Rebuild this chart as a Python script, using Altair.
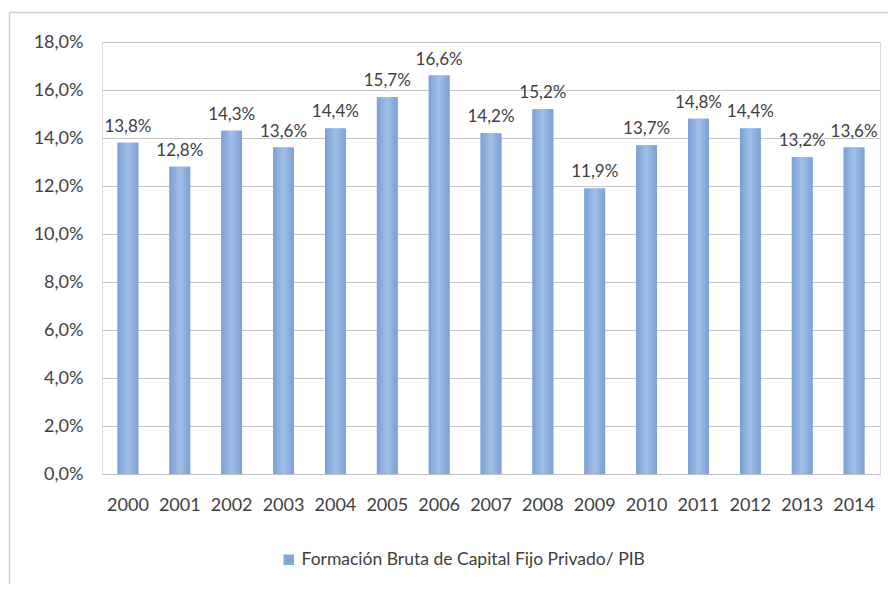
import altair as alt
import pandas as pd

years = ["2000", "2001", "2002", "2003", "2004", "2005", "2006", "2007",
         "2008", "2009", "2010", "2011", "2012", "2013", "2014"]
values = [13.8, 12.8, 14.3, 13.6, 14.4, 15.7, 16.6, 14.2,
          15.2, 11.9, 13.7, 14.8, 14.4, 13.2, 13.6]
series_name = "Formación Bruta de Capital Fijo Privado/ PIB"
y_ticks = [0, 2, 4, 6, 8, 10, 12, 14, 16, 18]

df = pd.DataFrame({"year": years, "value": values, "serie": [series_name] * len(years)})

FONT = "Lato"
TXT = "#404040"

x_enc = alt.X("year:N", title=None,
              scale=alt.Scale(paddingInner=0.6, paddingOuter=0.3),
              axis=alt.Axis(labelAngle=0, labelFontSize=18, labelColor=TXT, labelFont=FONT,
                            labelPadding=22, ticks=False, domainColor="#bfbfbf", domainWidth=1.2))
y_enc = alt.Y("value:Q", title=None,
              scale=alt.Scale(domain=[0, 18], nice=False),
              axis=alt.Axis(values=y_ticks, labelExpr="replace(format(datum.value, '.1f'), '.', ',') + '%'",
                            labelFontSize=18, labelColor=TXT, labelFont=FONT, labelPadding=19,
                            ticks=False, domain=False, gridColor="#c4c4c4", gridWidth=1))

base = alt.Chart(df)

legend_bar = base.mark_bar().encode(
    x=x_enc, y=y_enc,
    color=alt.Color("serie:N", scale=alt.Scale(range=["#82a7da"]),
                    legend=alt.Legend(title=None, orient="none", legendX=178, legendY=509,
                                      symbolType="square", symbolSize=110, symbolStrokeWidth=0,
                                      labelFontSize=17.5, labelColor=TXT, labelFont=FONT,
                                      labelLimit=600)),
)

grad = alt.Gradient(gradient="linear", x1=0, x2=1, y1=0, y2=0,
                    stops=[alt.GradientStop(color="#7aa0d4", offset=0),
                           alt.GradientStop(color="#a2bfe8", offset=0.5),
                           alt.GradientStop(color="#7aa0d4", offset=1)])
grad_bar = base.mark_bar(color=grad).encode(x=x_enc, y=y_enc)

labels = base.transform_calculate(
    lab="replace(format(datum.value, '.1f'), '.', ',') + '%'"
).mark_text(baseline="bottom", dy=-7, fontSize=17, font=FONT, color=TXT).encode(
    x=x_enc, y=y_enc, text="lab:N"
)

frame = alt.Chart(pd.DataFrame({"a": [0]})).mark_rect(
    fill=None, stroke="#d0d0d0", strokeWidth=1.5
).encode(x=alt.value(-92.5), x2=alt.value(790), y=alt.value(-29.5), y2=alt.value(600))

chart = alt.layer(frame, legend_bar, grad_bar, labels).properties(
    width=778, height=432,
    autosize=alt.AutoSizeParams(type="none"),
    padding={"left": 94, "top": 34, "right": 8, "bottom": 110},
).configure_view(stroke=None).configure(background="white")

chart.save("out.html", embed_options={"renderer": "svg", "actions": False})
